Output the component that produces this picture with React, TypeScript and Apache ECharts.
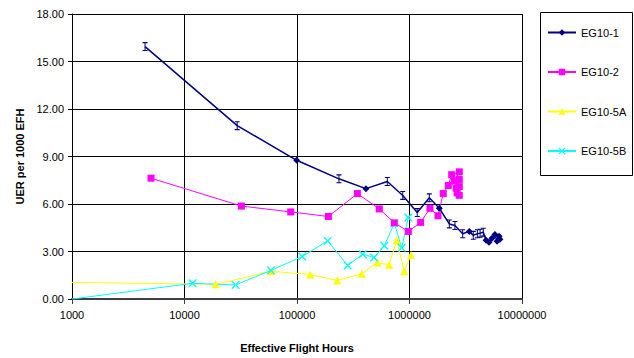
import React, { useEffect, useRef } from "react";
import * as echarts from "echarts";

const xTicks = [1000, 10000, 100000, 1000000, 10000000];
const yTicks = [0, 3, 6, 9, 12, 15, 18];

const eg101X = [4460, 29400, 99300, 236000, 410000, 635000, 871000, 1172000, 1500000, 1840000, 2260000, 2535000, 2970000, 3400000, 3690000, 4010000, 4240000, 4530000, 4790000, 5090000, 5410000, 5750000, 6000000, 6250000, 6370000];
const eg101Y = [15.94, 10.95, 8.76, 7.59, 6.97, 7.42, 6.54, 5.46, 6.39, 5.73, 4.74, 4.64, 4.12, 4.27, 4.02, 4.12, 4.16, 4.22, 3.71, 3.59, 3.83, 4.08, 3.65, 3.96, 3.77];
const eg101Mark = ["I", "I", "D", "I", "D", "I", "I", "I", "I", "D", "I", "I", "I", "D", "I", "I", "I", "I", "D", "D", "D", "D", "D", "D", "D"];

const eg102X = [5040, 32000, 87900, 190000, 344000, 539000, 733000, 977000, 1256000, 1521000, 1791000, 1995000, 2213000, 2372000, 2770000, 2500000, 2770000, 2600000, 2770000, 2650000, 2770000];
const eg102Y = [7.63, 5.87, 5.5, 5.21, 6.66, 5.69, 4.81, 4.27, 4.84, 5.73, 5.26, 6.66, 7.17, 7.85, 8.03, 7.45, 7.55, 7.0, 7.1, 6.7, 6.55];

const eg105aX = [1000, 18900, 58700, 130600, 228000, 376000, 518000, 658000, 769000, 899000, 1031000];
const eg105aY = [1.05, 0.93, 1.75, 1.55, 1.17, 1.59, 2.31, 2.16, 3.71, 1.75, 2.78];

const eg105bX = [1000, 11800, 28500, 58700, 111000, 187000, 282000, 384000, 483000, 597000, 733000, 853000, 977000];
const eg105bY = [0, 0.99, 0.89, 1.81, 2.68, 3.67, 2.12, 2.83, 2.62, 3.36, 4.78, 3.23, 5.15];

const seriesNames = ["EG10-1", "EG10-2", "EG10-5A", "EG10-5B"];
const colors = ["#000080", "#FF00FF", "#FFFF00", "#00FFFF"];

const IBEAM = "path://M0,0H6V1.2H3.6V8.8H6V10H0V8.8H2.4V1.2H0Z";
const CROSS = "path://M0,0L1.2,0L5,3.8L8.8,0L10,0L10,1.2L6.2,5L10,8.8L10,10L8.8,10L5,6.2L1.2,10L0,10L0,8.8L3.8,5L0,1.2Z";

export default function App() {
  const ref = useRef<HTMLDivElement>(null);
  useEffect(() => {
    if (!ref.current) return;
    const chart = echarts.init(ref.current, undefined, { renderer: "svg" });
    const font = "Arial, 'Liberation Sans', sans-serif";

    const d1 = eg101X.map((x, i) => {
      const item: any = { value: [x, eg101Y[i]] };
      if (eg101Mark[i] === "I") {
        item.symbol = IBEAM;
        item.symbolSize = [5, 9];
      }
      return item;
    });
    const d2 = eg102X.map((x, i) => [x, eg102Y[i]]);
    const d3 = eg105aX.map((x, i) => (i === 0 ? { value: [x, eg105aY[i]], symbol: "none" } : [x, eg105aY[i]]));
    const d4 = eg105bX.map((x, i) => (i === 0 ? { value: [x, eg105bY[i]], symbol: "none" } : [x, eg105bY[i]]));

    chart.setOption({
      animation: false,
      backgroundColor: "#ffffff",
      textStyle: { fontFamily: font },
      grid: { left: 72, top: 14, width: 450, height: 291, containLabel: false },
      legend: {
        orient: "vertical",
        left: 547,
        top: 27,
        itemGap: 28.5,
        itemWidth: 28,
        itemHeight: 8,
        padding: 0,
        textStyle: { fontFamily: font, fontSize: 11, color: "#000" },
        data: seriesNames,
      },
      graphic: [
        {
          type: "rect",
          shape: { x: 540.5, y: 12.5, width: 92, height: 163 },
          style: { fill: "none", stroke: "#000", lineWidth: 1 },
          silent: true,
        },
      ],
      xAxis: {
        type: "log",
        logBase: 10,
        min: xTicks[0],
        max: xTicks[xTicks.length - 1],
        name: "Effective Flight Hours",
        nameLocation: "middle",
        nameGap: 43,
        nameTextStyle: { fontFamily: font, fontSize: 11, fontWeight: "bold", color: "#000" },
        axisLine: { lineStyle: { color: "#404040", width: 2 } },
        axisTick: { show: true, inside: false, length: 5, lineStyle: { color: "#404040" } },
        axisLabel: { fontFamily: font, fontSize: 11, color: "#000", margin: 10, formatter: (v: number) => String(Math.round(v)) },
        splitLine: { show: true, lineStyle: { color: "#000", width: 1 } },
        minorTick: { show: false },
      },
      yAxis: {
        type: "value",
        min: yTicks[0],
        max: yTicks[yTicks.length - 1],
        interval: 3,
        name: "UER per 1000 EFH",
        nameLocation: "middle",
        nameGap: 37,
        nameTextStyle: { fontFamily: font, fontSize: 11, fontWeight: "bold", color: "#000" },
        axisLine: { show: true, lineStyle: { color: "#000", width: 1 } },
        axisTick: { show: true, inside: false, length: 4, lineStyle: { color: "#000" } },
        axisLabel: { fontFamily: font, fontSize: 11, color: "#000", margin: 8, formatter: (v: number) => v.toFixed(2) },
        splitLine: { show: true, lineStyle: { color: "#000", width: 1 } },
      },
      series: [
        {
          name: seriesNames[0],
          type: "line",
          data: d1,
          symbol: "diamond",
          symbolSize: 7,
          color: colors[0],
          lineStyle: { color: colors[0], width: 1.5 },
          itemStyle: { color: colors[0] },
          z: 5,
        },
        {
          name: seriesNames[1],
          type: "line",
          data: d2,
          symbol: "rect",
          symbolSize: 7,
          color: colors[1],
          lineStyle: { color: colors[1], width: 1 },
          itemStyle: { color: colors[1] },
          z: 4,
        },
        {
          name: seriesNames[2],
          type: "line",
          data: d3,
          symbol: "triangle",
          symbolSize: 8,
          color: colors[2],
          lineStyle: { color: colors[2], width: 1 },
          itemStyle: { color: colors[2] },
          z: 3,
        },
        {
          name: seriesNames[3],
          type: "line",
          data: d4,
          symbol: CROSS,
          symbolSize: 8,
          color: colors[3],
          lineStyle: { color: colors[3], width: 1 },
          itemStyle: { color: colors[3] },
          z: 3,
        },
      ],
    });
    return () => chart.dispose();
  }, []);
  return <div ref={ref} style={{ position: "fixed", left: 0, top: 0, width: 634, height: 358 }} />;
}
